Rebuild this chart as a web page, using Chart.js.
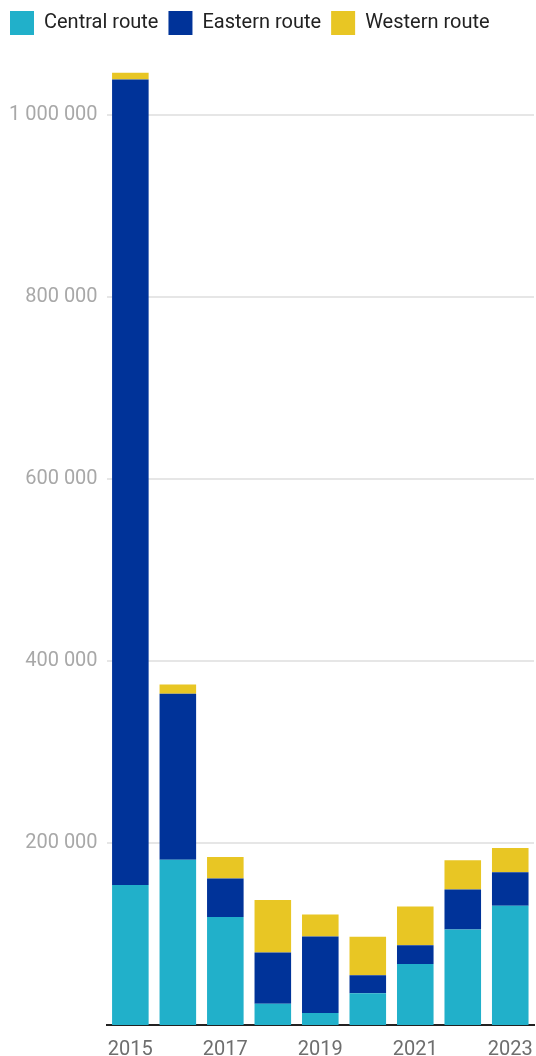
<!DOCTYPE html>
<html>
<head>
<meta charset="utf-8">
<script src="https://cdn.jsdelivr.net/npm/chart.js@4"></script>
<style>
  html, body { margin: 0; padding: 0; background: #fff; }
  #wrap { width: 536px; height: 1056px; position: relative; }
</style>
</head>
<body>
<div id="wrap"><canvas id="chart"></canvas></div>
<script>
// Arrivals by migration route, per year
const years = ['2015', '2016', '2017', '2018', '2019', '2020', '2021', '2022', '2023'];
const central = [153900, 181400, 118500, 23300, 13200, 34900, 67100, 105000, 131000];
const eastern = [884500, 182300, 42500, 56300, 84000, 19800, 20600, 43900, 36700];
const western = [7400, 10200, 23600, 57600, 24200, 42200, 42500, 32000, 26800];
const yTicks = [200000, 400000, 600000, 800000, 1000000];

const fmt = v => String(v).replace(/\B(?=(\d{3})+(?!\d))/g, ' ');

// extra room under the legend
const legendGap = {
  id: 'legendGap',
  beforeInit(chart) {
    const fit = chart.legend.fit;
    chart.legend.fit = function () {
      fit.bind(chart.legend)();
      this.height += 24;
    };
  }
};

new Chart(document.getElementById('chart'), {
  type: 'bar',
  data: {
    labels: years,
    datasets: [
      { label: 'Central route', data: central, backgroundColor: '#21b0ca' },
      { label: 'Eastern route', data: eastern, backgroundColor: '#003399' },
      { label: 'Western route', data: western, backgroundColor: '#e8c624' }
    ]
  },
  options: {
    responsive: true,
    maintainAspectRatio: false,
    animation: false,
    layout: { padding: { left: 0, right: 2, top: 1, bottom: 0 } },
    datasets: { bar: { barPercentage: 0.77, categoryPercentage: 1, borderWidth: 0 } },
    plugins: {
      tooltip: { enabled: false },
      legend: {
        position: 'top',
        align: 'start',
        labels: {
          boxWidth: 24,
          boxHeight: 24,
          padding: 10,
          color: '#222',
          font: { family: 'Roboto', size: 20 }
        }
      }
    },
    scales: {
      x: {
        stacked: true,
        grid: { display: false, drawTicks: false },
        border: { display: true, color: '#222', width: 2 },
        afterFit: scale => {
          scale.height -= 19;
          scale.paddingLeft = 0;
          scale.paddingRight = 0;
        },
        ticks: {
          autoSkip: false,
          maxRotation: 0,
          padding: 13,
          color: '#6e6e6e',
          font: { family: 'Roboto', size: 20 },
          callback: function (v, i) { return i % 2 === 0 ? years[i] : ''; }
        }
      },
      y: {
        stacked: true,
        min: 0,
        max: 1050000,
        afterBuildTicks: scale => { scale.ticks = yTicks.map(v => ({ value: v })); },
        grid: { color: '#e6e6e6', lineWidth: 2, drawTicks: false },
        border: { display: false },
        ticks: {
          padding: 9,
          color: '#a8a8a8',
          font: { family: 'Roboto', size: 20 },
          callback: v => fmt(v)
        }
      }
    }
  },
  plugins: [legendGap]
});
</script>
</body>
</html>
